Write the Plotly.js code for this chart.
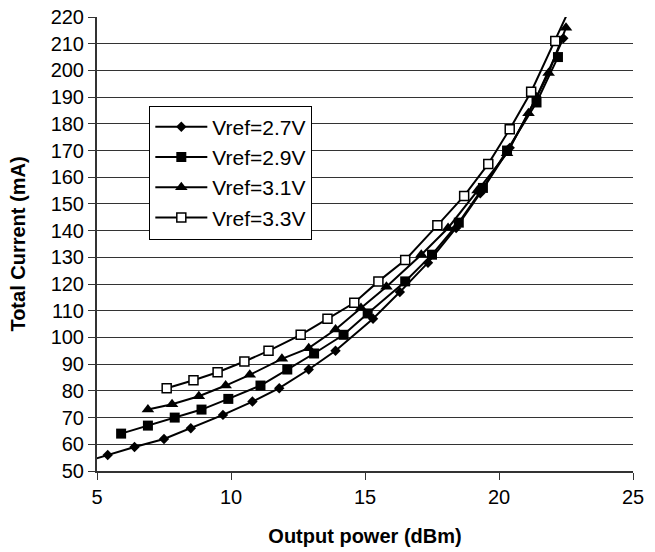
<!DOCTYPE html>
<html>
<head>
<meta charset="utf-8">
<script src="https://cdn.plot.ly/plotly-3.0.1.min.js"></script>
<style>
  html, body { margin: 0; padding: 0; background: #fff; }
  #chart { width: 655px; height: 552px; }
</style>
</head>
<body>
<div id="chart"></div>
<script>
// Series names
const seriesNames = ["Vref=2.7V", "Vref=2.9V", "Vref=3.1V", "Vref=3.3V"];

// Vref = 2.7 V (diamonds)
const x27 = [4.4, 5.4, 6.4, 7.5, 8.5, 9.7, 10.8, 11.8, 12.9, 13.9, 15.3, 16.3, 17.35, 18.4, 19.3, 20.4, 21.4, 22.4];
const y27 = [53, 56, 59, 62, 66, 71, 76, 81, 88, 95, 107, 117, 128, 141, 154, 171, 190, 212];

// Vref = 2.9 V (filled squares)
const x29 = [5.9, 6.9, 7.9, 8.9, 9.9, 11.1, 12.1, 13.1, 14.2, 15.1, 16.5, 17.5, 18.5, 19.4, 20.3, 21.4, 22.2];
const y29 = [64, 67, 70, 73, 77, 82, 88, 94, 101, 109, 121, 131, 143, 156, 170, 188, 205];

// Vref = 3.1 V (triangles)
const x31 = [6.9, 7.8, 8.8, 9.8, 10.7, 11.9, 12.9, 13.9, 14.85, 15.8, 17.1, 18.1, 19.2, 20.3, 21.1, 21.85, 22.5];
const y31 = [73, 75, 78, 82, 86, 92, 96, 103, 111, 119, 131, 141, 155, 169, 184, 199, 216];

// Vref = 3.3 V (open squares)
const x33 = [7.6, 8.6, 9.5, 10.5, 11.4, 12.6, 13.6, 14.6, 15.5, 16.5, 17.7, 18.7, 19.6, 20.4, 21.2, 22.1, 23.0];
const y33 = [81, 84, 87, 91, 95, 101, 107, 113, 121, 129, 142, 153, 165, 178, 192, 211, 231];

// Axis ticks
const xTicks = [5, 10, 15, 20, 25];
const yTicks = [50, 60, 70, 80, 90, 100, 110, 120, 130, 140, 150, 160, 170, 180, 190, 200, 210, 220];

const FONT = "Arial, 'Liberation Sans', sans-serif";
const lineStyle = { color: "#000", width: 2 };

const traces = [
  { x: x27, y: y27, name: seriesNames[0], mode: "lines+markers", line: lineStyle,
    marker: { symbol: "diamond", size: 8, color: "#000" } },
  { x: x29, y: y29, name: seriesNames[1], mode: "lines+markers", line: lineStyle,
    marker: { symbol: "square", size: 10, color: "#000" } },
  { x: x31, y: y31, name: seriesNames[2], mode: "lines+markers", line: lineStyle,
    marker: { symbol: "triangle-up", size: 11, color: "#000" } },
  { x: x33, y: y33, name: seriesNames[3], mode: "lines+markers", line: lineStyle,
    marker: { symbol: "square", size: 9, color: "#fff", line: { color: "#000", width: 1.5 } } }
];

const layout = {
  width: 655, height: 552,
  margin: { l: 97, r: 22, t: 17, b: 81 },
  paper_bgcolor: "#fff", plot_bgcolor: "#fff",
  font: { family: FONT, color: "#000", size: 20 },
  showlegend: true,
  legend: {
    x: 0.0976, y: 0.805, xanchor: "left", yanchor: "top",
    bgcolor: "#fff", bordercolor: "#000", borderwidth: 1,
    font: { family: FONT, size: 21, color: "#000" },
    itemwidth: 52, tracegroupgap: 0
  },
  xaxis: {
    range: [5, 25], tickvals: xTicks, ticktext: xTicks.map(String),
    showgrid: false, zeroline: false,
    showline: true, linecolor: "#333", linewidth: 2,
    ticks: "outside", ticklen: 7, tickcolor: "#333", tickwidth: 1,
    tickfont: { family: FONT, size: 20, color: "#000" },
    title: { text: "<b>Output power (dBm)</b>", font: { family: FONT, size: 20, color: "#000" }, standoff: 22 }
  },
  yaxis: {
    range: [50, 220], tickvals: yTicks, ticktext: yTicks.map(String),
    showgrid: true, gridcolor: "#333", gridwidth: 1, zeroline: false,
    showline: true, linecolor: "#333", linewidth: 2,
    ticks: "outside", ticklen: 7, tickcolor: "#333", tickwidth: 1,
    tickfont: { family: FONT, size: 20, color: "#000" },
    title: { text: "<b>Total Current (mA)</b>", font: { family: FONT, size: 20, color: "#000" }, standoff: 20 }
  }
};

Plotly.newPlot("chart", traces, layout, { displayModeBar: false, staticPlot: true });
</script>
</body>
</html>
